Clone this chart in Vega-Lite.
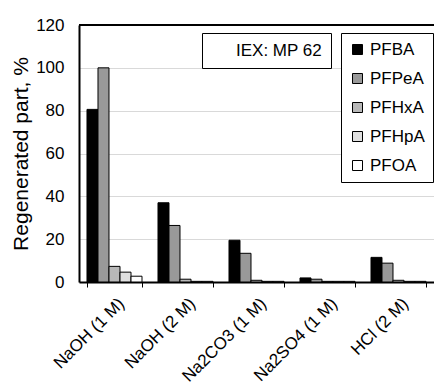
{
  "$schema": "https://vega.github.io/schema/vega-lite/v6.json",
  "width": 355,
  "height": 257,
  "autosize": "none",
  "padding": {"left": 79, "top": 25, "right": 0, "bottom": 105},
  "background": "white",
  "config": {"view": {"stroke": null}, "font": "Liberation Sans"},
  "datasets": {
    "bars": [
      {"condition": "NaOH (1 M)", "compound": "PFBA", "value": 80.6},
      {"condition": "NaOH (1 M)", "compound": "PFPeA", "value": 100},
      {"condition": "NaOH (1 M)", "compound": "PFHxA", "value": 7.3},
      {"condition": "NaOH (1 M)", "compound": "PFHpA", "value": 4.6},
      {"condition": "NaOH (1 M)", "compound": "PFOA", "value": 2.7},
      {"condition": "NaOH (2 M)", "compound": "PFBA", "value": 37},
      {"condition": "NaOH (2 M)", "compound": "PFPeA", "value": 26.4},
      {"condition": "NaOH (2 M)", "compound": "PFHxA", "value": 1.3},
      {"condition": "NaOH (2 M)", "compound": "PFHpA", "value": 0.3},
      {"condition": "NaOH (2 M)", "compound": "PFOA", "value": 0.3},
      {"condition": "Na2CO3 (1 M)", "compound": "PFBA", "value": 19.5},
      {"condition": "Na2CO3 (1 M)", "compound": "PFPeA", "value": 13.4},
      {"condition": "Na2CO3 (1 M)", "compound": "PFHxA", "value": 0.8},
      {"condition": "Na2CO3 (1 M)", "compound": "PFHpA", "value": 0.3},
      {"condition": "Na2CO3 (1 M)", "compound": "PFOA", "value": 0.3},
      {"condition": "Na2SO4 (1 M)", "compound": "PFBA", "value": 1.9},
      {"condition": "Na2SO4 (1 M)", "compound": "PFPeA", "value": 1.3},
      {"condition": "Na2SO4 (1 M)", "compound": "PFHxA", "value": 0.3},
      {"condition": "Na2SO4 (1 M)", "compound": "PFHpA", "value": 0.3},
      {"condition": "Na2SO4 (1 M)", "compound": "PFOA", "value": 0.3},
      {"condition": "HCl (2 M)", "compound": "PFBA", "value": 11.5},
      {"condition": "HCl (2 M)", "compound": "PFPeA", "value": 8.8},
      {"condition": "HCl (2 M)", "compound": "PFHxA", "value": 0.8},
      {"condition": "HCl (2 M)", "compound": "PFHpA", "value": 0.3},
      {"condition": "HCl (2 M)", "compound": "PFOA", "value": 0.3}
    ]
  },
  "layer": [
    {
      "data": {"name": "bars"},
      "mark": {"type": "bar", "stroke": "#000", "strokeWidth": 1},
      "encoding": {
        "x": {
          "field": "condition", "type": "nominal",
          "sort": ["NaOH (1 M)", "NaOH (2 M)", "Na2CO3 (1 M)", "Na2SO4 (1 M)", "HCl (2 M)"],
          "scale": {"paddingInner": 0.225, "paddingOuter": 0.1125},
          "axis": {
            "title": null, "labelAngle": -45, "labelFontSize": 17, "labelColor": "#000",
            "labelOffset": 1, "labelPadding": 8, "tickBand": "extent", "tickSize": 5,
            "tickColor": "#000", "domainColor": "#000", "domainWidth": 2, "grid": false
          }
        },
        "xOffset": {
          "field": "compound", "type": "nominal",
          "sort": ["PFBA", "PFPeA", "PFHxA", "PFHpA", "PFOA"],
          "scale": {"paddingInner": 0, "paddingOuter": 0}
        },
        "y": {
          "field": "value", "type": "quantitative",
          "scale": {"domain": [0, 120]},
          "axis": {
            "values": [0, 20, 40, 60, 80, 100, 120],
            "title": "Regenerated part, %", "titleFontSize": 21, "titleFontWeight": "normal",
            "titleColor": "#000", "titlePadding": 4,
            "labelFontSize": 17, "labelColor": "#000", "labelPadding": 15,
            "ticks": false, "domainColor": "#000", "domainWidth": 2,
            "grid": true, "gridColor": "#d9d9d9", "gridWidth": 1
          }
        },
        "fill": {
          "field": "compound", "type": "nominal",
          "scale": {
            "domain": ["PFBA", "PFPeA", "PFHxA", "PFHpA", "PFOA"],
            "range": ["#000000", "#999999", "#b8b8b8", "#e0e0e0", "#ffffff"]
          },
          "legend": {
            "title": null, "orient": "none", "legendX": 262, "legendY": 8,
            "direction": "vertical", "symbolType": "square", "symbolSize": 100,
            "symbolStrokeColor": "#000", "symbolStrokeWidth": 1,
            "labelFontSize": 17, "labelColor": "#000", "labelOffset": 4,
            "rowPadding": 11, "padding": 8, "strokeColor": "#000", "fillColor": "#fff"
          }
        }
      }
    },
    {
      "data": {"values": [{}]},
      "mark": {"type": "rule", "stroke": "#000", "strokeWidth": 2},
      "encoding": {"y": {"datum": 120}}
    },
    {
      "data": {"values": [{"label": "IEX: MP 62"}]},
      "mark": {"type": "point", "opacity": 0},
      "encoding": {
        "shape": {
          "field": "label", "type": "nominal",
          "legend": {
            "title": null, "orient": "none", "legendX": 123, "legendY": 8,
            "symbolSize": 1, "symbolOpacity": 0, "symbolStrokeWidth": 0,
            "labelFontSize": 17, "labelColor": "#000", "labelOffset": 8,
            "labelExpr": "datum.label + '    '",
            "padding": 9, "strokeColor": "#000", "fillColor": "#fff"
          }
        }
      }
    }
  ]
}
